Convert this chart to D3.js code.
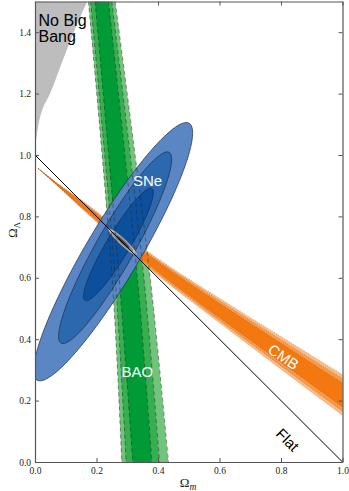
<!DOCTYPE html>
<html lang="en">
<head>
    <meta charset="utf-8" />
    <title>Omega_m vs Omega_Lambda constraints</title>
    <script src="https://cdnjs.cloudflare.com/ajax/libs/d3/7.8.5/d3.min.js"></script>
    <style>
        body { margin: 0; background: #fff; }
        svg { display: block; }
        .axis text { font-family: "Liberation Serif", "DejaVu Serif", serif; font-size: 9.5px; fill: #222; }
        .axis line, .axis path { stroke: #555; }
        .lbl { font-family: "Liberation Sans", Arial, sans-serif; font-size: 15px; }
        .title { font-family: "Liberation Serif", "DejaVu Serif", serif; font-size: 13px; fill: #222; }
    </style>
</head>
<body>
<script>

    // ---- data ----
    var xTicks = [0, 0.2, 0.4, 0.6, 0.8, 1.0];
    var yTicks = [0, 0.2, 0.4, 0.6, 0.8, 1.0, 1.2, 1.4];

    // "No Big Bang" boundary (Omega_m, Omega_Lambda)
    var nbbOmegaM = [0, 0.005, 0.023, 0.049, 0.091, 0.13, 0.17];
    var nbbLambda = [1.0, 1.06, 1.146, 1.2, 1.31, 1.41, 1.5];

    // BAO band edges: Omega_m of [3s left, 2s left, 1s left, 1s right, 2s right, 3s right] at each Omega_Lambda
    var baoLambda = [1.5, 0.6, 0.0];
    var baoEdges = [
        [0.1736, 0.1808, 0.1954, 0.2388, 0.2498, 0.2606],
        [0.2508, 0.2606, 0.2736, 0.3330, 0.3540, 0.3746],
        [0.2824, 0.2964, 0.3182, 0.3801, 0.4049, 0.4342]
    ];
    var baoColors = ["#72c47d", "#37ae4f", "#009b36"];

    // CMB band: centre line and half width (in Omega_Lambda)
    var cmbOmegaM = [0.0098, 0.0814, 0.1629, 0.3746, 0.5375, 1.0033];
    var cmbCenter = [0.9567, 0.8965, 0.8298, 0.6541, 0.5369, 0.2164];
    var cmbHalfWidth = [0, 0.0049, 0.0146, 0.026, 0.0358, 0.0667];
    var cmbLevels = [1, 0.8, 0.58];
    var cmbColors = ["#fbbd86", "#f7994a", "#f2780f"];

    // SNe ellipses (3s, 2s, 1s)
    var sneCx = [0.254, 0.2606, 0.2713];
    var sneCy = [0.685, 0.698, 0.7087];
    var sneA = [0.486, 0.357, 0.212];
    var sneB = [0.088, 0.062, 0.038];
    var sneAngle = [59.4, 60.5, 59.2];
    var sneColors = ["#5a87c3", "#2c68ae", "#0b4f9d"];

    // combined contour
    var jointCx = 0.285, jointCy = 0.717, jointAngle = -43;
    var jointA = [0.0635, 0.045, 0.028];
    var jointB = [0.011, 0.0075, 0.004];
    var jointColors = ["#c8c8c8", "#8c8c8c", "#3c3c3c"];

    // flat universe line
    var flatLine = [[0, 1], [1, 0]];

    // ---- layout ----
    var w = 349, h = 491;
    var x0 = 35, x1 = 342.5, y0 = 462, y1 = 1.5;

    var svg = d3.select("body").append("svg")
        .attr("width", w)
        .attr("height", h);

    var x = d3.scaleLinear().domain([0, 1]).range([x0, x1]);
    var y = d3.scaleLinear().domain([0, 1.5]).range([y0, y1]);

    svg.append("clipPath").attr("id", "plotclip")
        .append("rect")
        .attr("x", x0).attr("y", y1)
        .attr("width", x1 - x0).attr("height", y0 - y1);

    var plot = svg.append("g").attr("clip-path", "url(#plotclip)");

    function edgePath(pts, curve) {
        return d3.line()
            .x(function (d) { return x(d[0]); })
            .y(function (d) { return y(d[1]); })
            .curve(curve || d3.curveLinear)(pts);
    }

    function bandPath(upper, lower, curve) {
        var a = edgePath(upper, curve);
        var b = edgePath(lower.slice().reverse(), curve);
        return a + "L" + b.slice(1) + "Z";
    }

    function ellipsePts(cx, cy, a, b, ang) {
        var th = ang * Math.PI / 180;
        return d3.range(0, 360, 3).map(function (t) {
            var r = t * Math.PI / 180;
            return [cx + a * Math.cos(th) * Math.cos(r) - b * Math.sin(th) * Math.sin(r),
                    cy + a * Math.sin(th) * Math.cos(r) + b * Math.cos(th) * Math.sin(r)];
        });
    }

    var ellipseLine = d3.line()
        .x(function (d) { return x(d[0]); })
        .y(function (d) { return y(d[1]); })
        .curve(d3.curveLinearClosed);

    // No Big Bang region
    var nbb = nbbOmegaM.map(function (d, i) { return [d, nbbLambda[i]]; });
    plot.append("path")
        .attr("d", edgePath(nbb, d3.curveCatmullRom) + "L" + x(0) + "," + y(1.5) + "Z")
        .attr("fill", "#bdbdbd");

    // BAO band
    [0, 1, 2].forEach(function (k) {
        var left = baoLambda.map(function (l, i) { return [baoEdges[i][k], l]; });
        var right = baoLambda.map(function (l, i) { return [baoEdges[i][5 - k], l]; });
        plot.append("path")
            .attr("d", bandPath(left, right, d3.curveCatmullRom))
            .attr("fill", baoColors[k]);
    });

    // CMB band
    var cmbFill = plot.append("g");
    var cmbLines = [];
    cmbLevels.forEach(function (f, k) {
        var up = cmbOmegaM.map(function (m, i) { return [m, cmbCenter[i] + f * cmbHalfWidth[i]]; });
        var lo = cmbOmegaM.map(function (m, i) { return [m, cmbCenter[i] - f * cmbHalfWidth[i]]; });
        cmbFill.append("path")
            .attr("d", bandPath(up, lo, d3.curveCatmullRom))
            .attr("fill", cmbColors[k]);
        cmbLines.push(up, lo);
    });
    plot.selectAll("path.cmbdot")
        .data(cmbLines)
        .enter()
        .append("path")
        .attr("class", "cmbdot")
        .attr("d", function (d) { return edgePath(d, d3.curveCatmullRom); })
        .attr("fill", "none")
        .attr("stroke", "#6b2e00")
        .attr("stroke-opacity", 0.45)
        .attr("stroke-width", 0.7)
        .attr("stroke-dasharray", "1,1.5");

    // SNe ellipses
    plot.selectAll("path.sne")
        .data(sneCx)
        .enter()
        .append("path")
        .attr("class", "sne")
        .attr("d", function (d, i) {
            return ellipseLine(ellipsePts(sneCx[i], sneCy[i], sneA[i], sneB[i], sneAngle[i]));
        })
        .attr("fill", function (d, i) { return sneColors[i]; })
        .attr("stroke", "#1b2c48")
        .attr("stroke-width", 0.7);

    // combined contour
    plot.selectAll("path.joint")
        .data(jointA)
        .enter()
        .append("path")
        .attr("class", "joint")
        .attr("d", function (d, i) {
            return ellipseLine(ellipsePts(jointCx, jointCy, jointA[i], jointB[i], jointAngle));
        })
        .attr("fill", function (d, i) { return jointColors[i]; })
        .attr("stroke", "#333")
        .attr("stroke-width", 0.3);

    // BAO dashed outlines on top
    [0, 1, 2, 3, 4, 5].forEach(function (k) {
        var pts = baoLambda.map(function (l, i) { return [baoEdges[i][k], l]; });
        plot.append("path")
            .attr("d", edgePath(pts, d3.curveCatmullRom))
            .attr("fill", "none")
            .attr("stroke", "#222")
            .attr("stroke-opacity", 0.6)
            .attr("stroke-width", 0.8)
            .attr("stroke-dasharray", "4,3");
    });

    // flat line
    plot.append("path")
        .attr("d", edgePath(flatLine))
        .attr("stroke", "#000")
        .attr("stroke-width", 1)
        .attr("fill", "none");

    // labels
    svg.append("text").attr("class", "lbl").attr("x", 38.5).attr("y", 25.5).style("font-size", "16px").text("No Big");
    svg.append("text").attr("class", "lbl").attr("x", 38.5).attr("y", 41.5).style("font-size", "16px").text("Bang");
    svg.append("text").attr("class", "lbl").attr("x", 133).attr("y", 186).attr("fill", "#fff").text("SNe");
    svg.append("text").attr("class", "lbl").attr("x", 121.5).attr("y", 376.5).attr("fill", "#fff").text("BAO");
    svg.append("text").attr("class", "lbl")
        .attr("transform", "translate(283.5,357) rotate(34)")
        .attr("text-anchor", "middle").attr("dy", "0.35em")
        .attr("fill", "#fff").text("CMB");
    svg.append("text").attr("class", "lbl")
        .attr("transform", "translate(287.5,440) rotate(45)")
        .attr("text-anchor", "middle").attr("dy", "0.35em")
        .attr("fill", "#000").text("Flat");

    // axes, ticks pointing inward
    var fmt = d3.format(".1f");
    svg.append("g").attr("class", "axis")
        .attr("transform", "translate(0," + y0 + ")")
        .call(d3.axisBottom(x).tickValues(xTicks).tickFormat(fmt).tickSize(-4).tickSizeOuter(0).tickPadding(5));
    svg.append("g").attr("class", "axis")
        .attr("transform", "translate(" + x0 + ",0)")
        .call(d3.axisLeft(y).tickValues(yTicks).tickFormat(fmt).tickSize(-4).tickSizeOuter(0).tickPadding(4));
    svg.append("g").attr("class", "axis")
        .attr("transform", "translate(0," + y1 + ")")
        .call(d3.axisTop(x).tickValues(xTicks).tickFormat("").tickSize(-4).tickSizeOuter(0));
    svg.append("g").attr("class", "axis")
        .attr("transform", "translate(" + x1 + ",0)")
        .call(d3.axisRight(y).tickValues(yTicks).tickFormat("").tickSize(-4).tickSizeOuter(0));
    svg.selectAll(".axis .domain").attr("stroke-width", 1.2);

    // axis titles
    var xt = svg.append("text").attr("class", "title")
        .attr("x", 188).attr("y", 487).attr("text-anchor", "middle");
    xt.append("tspan").text("\u03A9");
    xt.append("tspan").attr("font-style", "italic").attr("font-size", "9.5px").attr("dy", 2.5).text("m");

    var yt = svg.append("text").attr("class", "title")
        .attr("transform", "translate(17,230) rotate(-90)")
        .attr("text-anchor", "middle");
    yt.append("tspan").text("\u03A9");
    yt.append("tspan").attr("font-size", "9px").attr("dy", 2.5).text("\u039B");

</script>
</body>
</html>
